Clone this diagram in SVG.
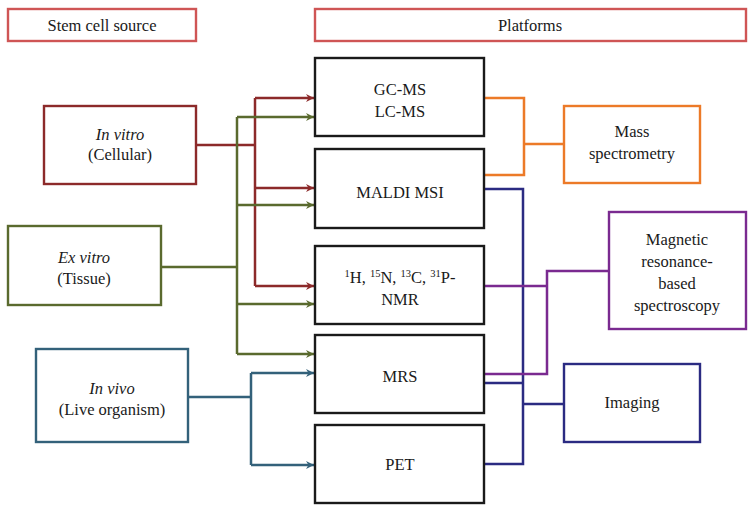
<svg xmlns="http://www.w3.org/2000/svg" width="755" height="514" viewBox="0 0 755 514" font-family="'Liberation Serif', 'DejaVu Serif', serif">
<style>
text{font-family:'Liberation Serif','DejaVu Serif',serif;font-size:16.5px;fill:#1a1a1a;text-anchor:middle}
.it{font-style:italic}
.box{fill:#fff;stroke-width:2.4}
.hdr{stroke:#cf5555}
.plat{stroke:#1a1a1a}
.red{stroke:#8c2a2a}
.grn{stroke:#5a6a2e}
.teal{stroke:#33617a}
.org{stroke:#ec7a28}
.pur{stroke:#7a2a90}
.navy{stroke:#2b2b82}
.ln{fill:none;stroke-width:2.5}
.sup{font-size:10.5px}
</style>
<defs>
<marker id="aR" markerUnits="userSpaceOnUse" markerWidth="10" markerHeight="10" refX="9" refY="5" orient="auto"><path d="M1,1 L9,5 L1,9 L3.5,5 Z" fill="#8c2a2a"/></marker>
<marker id="aG" markerUnits="userSpaceOnUse" markerWidth="10" markerHeight="10" refX="9" refY="5" orient="auto"><path d="M1,1 L9,5 L1,9 L3.5,5 Z" fill="#5a6a2e"/></marker>
<marker id="aT" markerUnits="userSpaceOnUse" markerWidth="10" markerHeight="10" refX="9" refY="5" orient="auto"><path d="M1,1 L9,5 L1,9 L3.5,5 Z" fill="#33617a"/></marker>
</defs>

<g id="connectors">
  <path class="ln red" d="M196,145 H255" stroke-width="4"/>
  <path class="ln red" d="M255,98 V286"/>
  <path class="ln red" d="M255,98 H314" marker-end="url(#aR)"/>
  <path class="ln red" d="M255,188 H314" marker-end="url(#aR)"/>
  <path class="ln red" d="M255,286 H314" marker-end="url(#aR)"/>
  <path class="ln grn" d="M161,267 H237" stroke-width="4.5"/>
  <path class="ln grn" d="M237,117 V354"/>
  <path class="ln grn" d="M237,117 H314" marker-end="url(#aG)"/>
  <path class="ln grn" d="M237,205 H314" marker-end="url(#aG)"/>
  <path class="ln grn" d="M237,304 H314" marker-end="url(#aG)"/>
  <path class="ln grn" d="M237,354 H314" marker-end="url(#aG)"/>
  <path class="ln teal" d="M188,397 H251" stroke-width="3"/>
  <path class="ln teal" d="M251,373 V465"/>
  <path class="ln teal" d="M251,373 H314" marker-end="url(#aT)"/>
  <path class="ln teal" d="M251,465 H314" marker-end="url(#aT)"/>
  <path class="ln org" d="M484,98 H524 V175 H484"/>
  <path class="ln org" d="M524,144 H564" stroke-width="3"/>
  <path class="ln navy" d="M484,189 H523 V464 H484"/>
  <path class="ln navy" d="M484,383 H523"/>
  <path class="ln navy" d="M523,404 H564" stroke-width="4"/>
  <path class="ln pur" d="M484,286 H547"/>
  <path class="ln pur" d="M484,374 H547 V271 H609"/>
</g>

<g id="hdr-source"><rect class="box hdr" x="8" y="9" width="188" height="32"/><text x="102" y="31">Stem cell source</text></g>
<g id="hdr-platforms"><rect class="box hdr" x="315" y="9" width="431" height="32"/><text x="530" y="31">Platforms</text></g>

<g id="invitro"><rect class="box red" x="44" y="106" width="152" height="78"/><text x="120" y="140" class="it">In vitro</text><text x="120" y="160">(Cellular)</text></g>
<g id="exvitro"><rect class="box grn" x="8" y="226" width="153" height="79"/><text x="84" y="263" class="it">Ex vitro</text><text x="84" y="284">(Tissue)</text></g>
<g id="invivo"><rect class="box teal" x="36" y="349" width="152" height="93"/><text x="112" y="394" class="it">In vivo</text><text x="112" y="415">(Live organism)</text></g>

<g id="gcms"><rect class="box plat" x="315" y="58" width="169" height="78"/><text x="400" y="95">GC-MS</text><text x="400" y="117">LC-MS</text></g>
<g id="maldi"><rect class="box plat" x="315" y="149" width="169" height="79"/><text x="400" y="198">MALDI MSI</text></g>
<g id="nmr"><rect class="box plat" x="315" y="246" width="169" height="78"/><text x="400" y="283"><tspan class="sup" dy="-6">1</tspan><tspan dy="6">H, </tspan><tspan class="sup" dy="-6">15</tspan><tspan dy="6">N, </tspan><tspan class="sup" dy="-6">13</tspan><tspan dy="6">C, </tspan><tspan class="sup" dy="-6">31</tspan><tspan dy="6">P-</tspan></text><text x="400" y="305">NMR</text></g>
<g id="mrs"><rect class="box plat" x="315" y="335" width="169" height="78"/><text x="400" y="382">MRS</text></g>
<g id="pet"><rect class="box plat" x="315" y="425" width="169" height="78"/><text x="400" y="470">PET</text></g>

<g id="massspec"><rect class="box org" x="564" y="106" width="136" height="77"/><text x="632" y="137">Mass</text><text x="632" y="159">spectrometry</text></g>
<g id="magnetic"><rect class="box pur" x="609" y="212" width="137" height="117"/><text x="677" y="245">Magnetic</text><text x="677" y="267">resonance-</text><text x="677" y="289">based</text><text x="677" y="311">spectroscopy</text></g>
<g id="imaging"><rect class="box navy" x="564" y="364" width="136" height="78"/><text x="632" y="408">Imaging</text></g>
</svg>
